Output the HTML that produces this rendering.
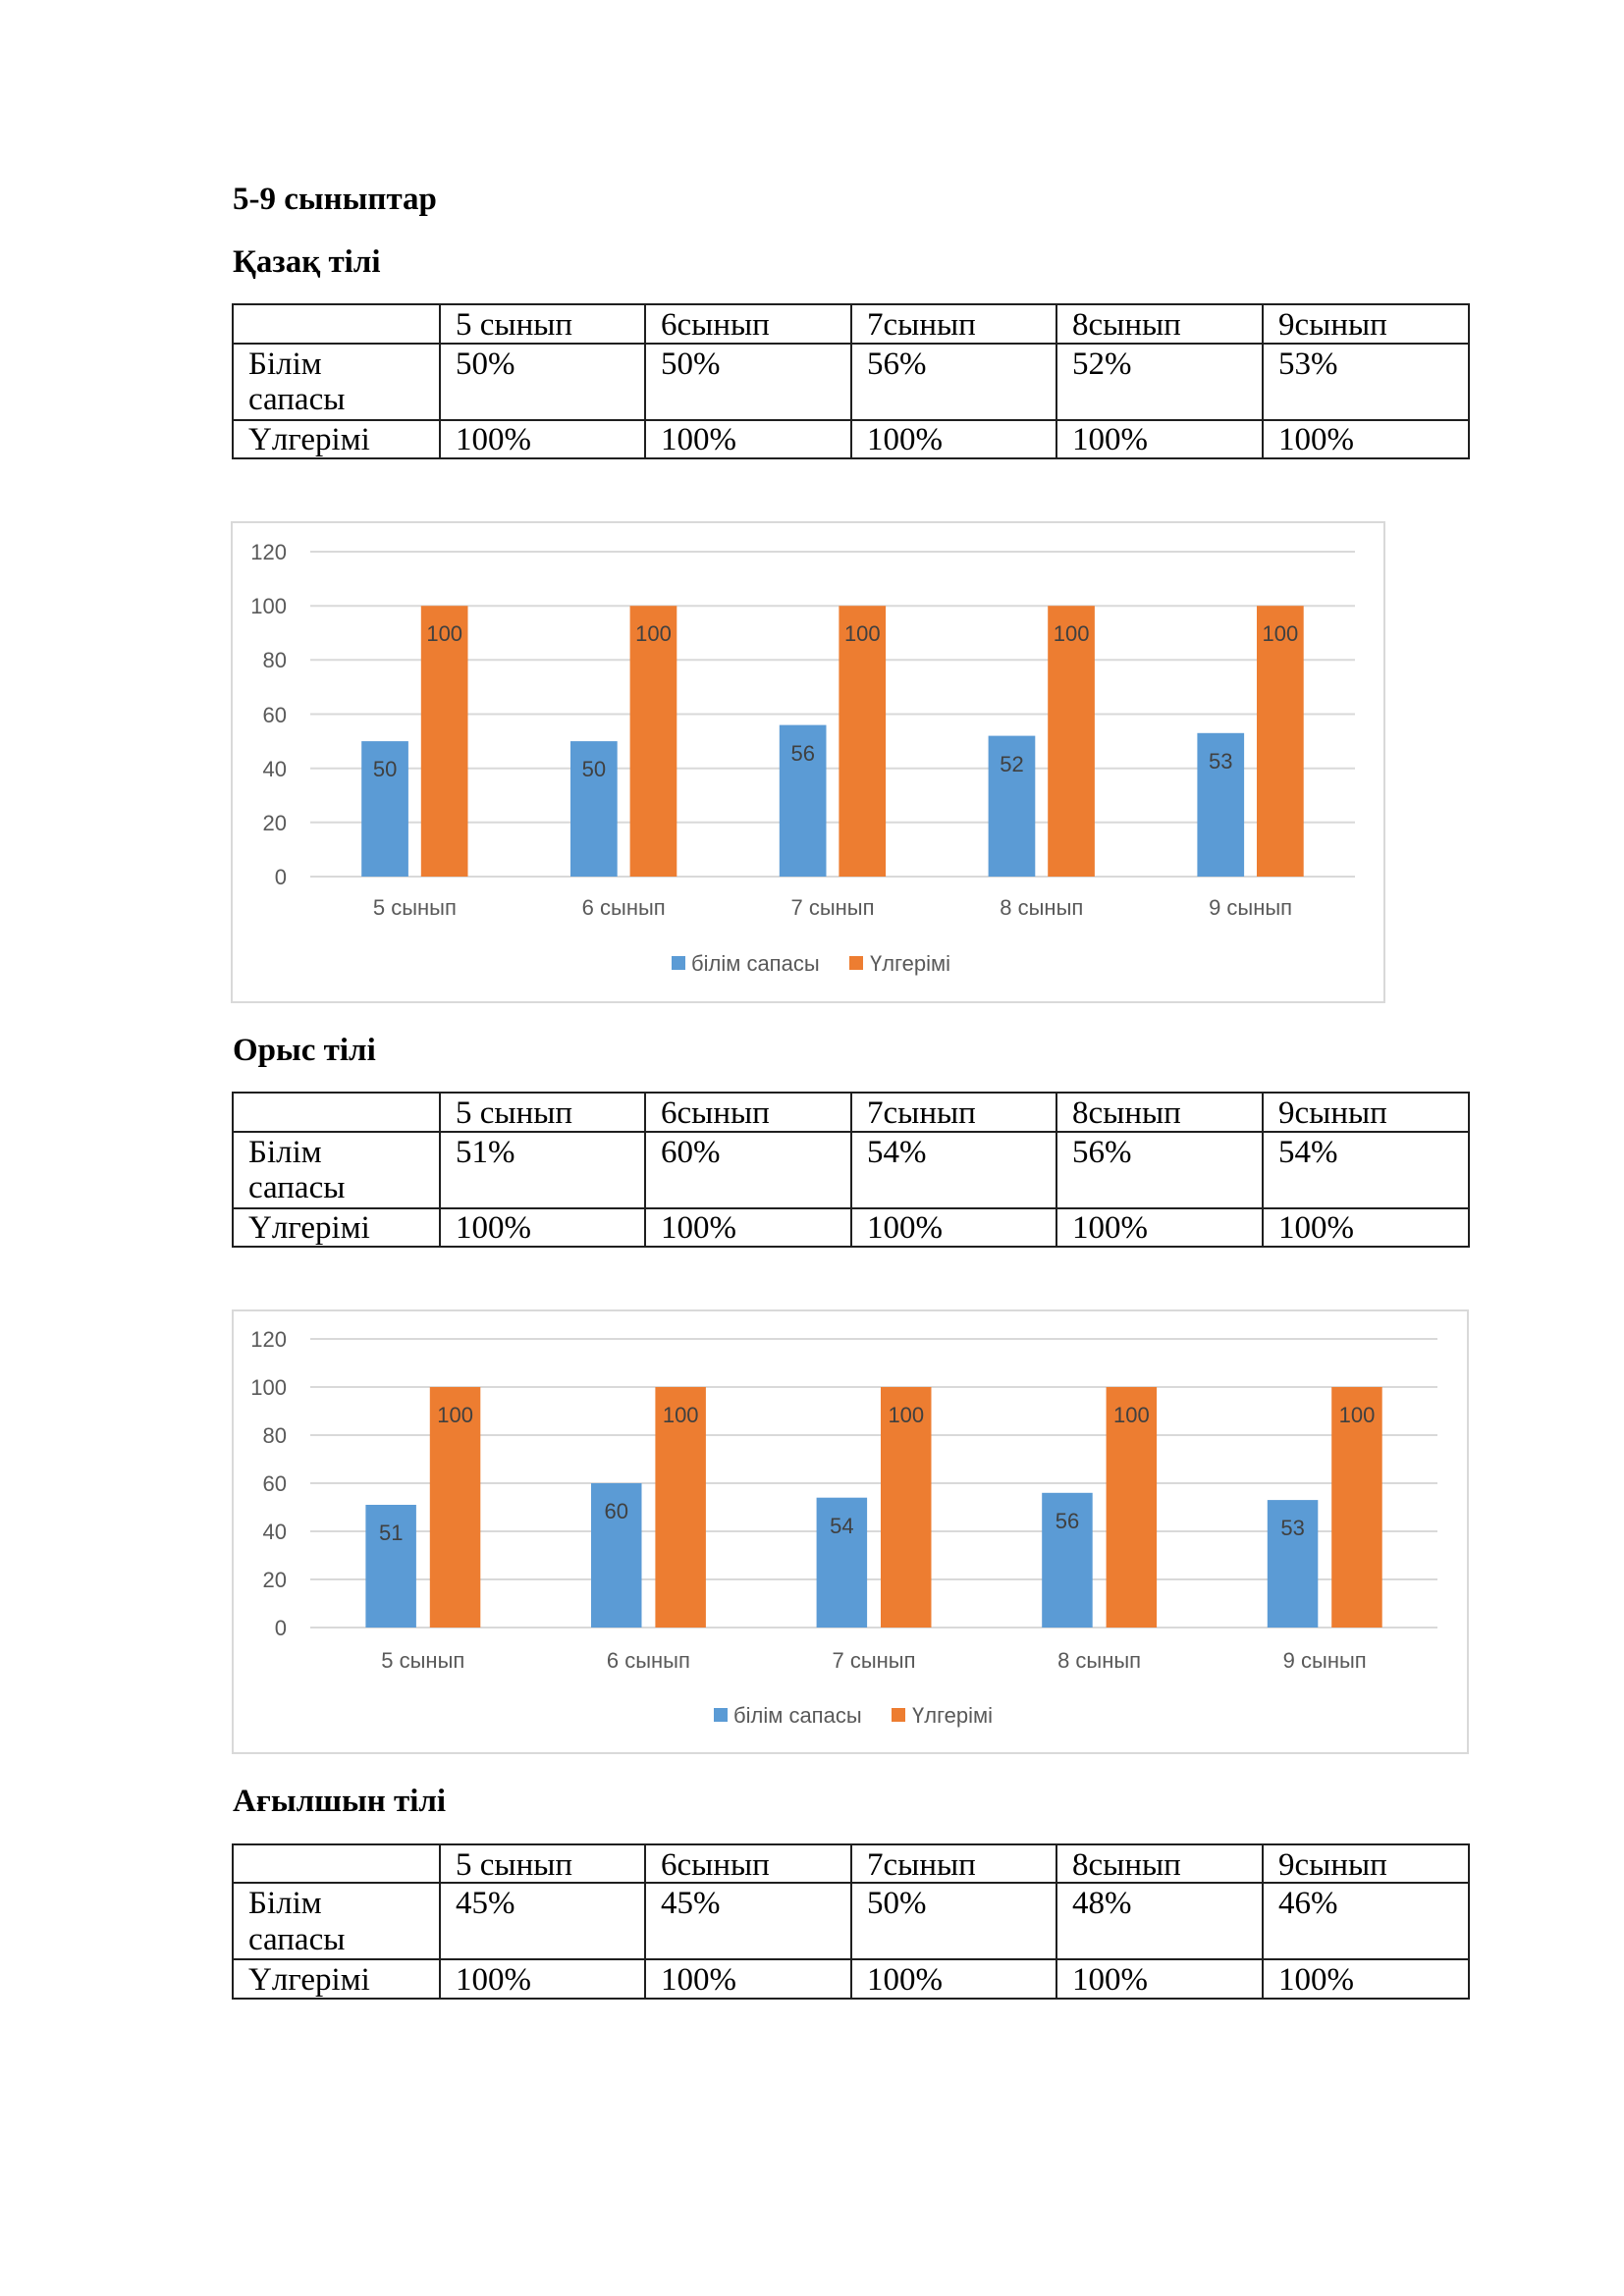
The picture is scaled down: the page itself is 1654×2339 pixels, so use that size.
<!DOCTYPE html>
<html>
<head>
<meta charset="utf-8">
<style>
  html, body { margin:0; padding:0; background:#fff; }
  body { width:1654px; height:2339px; overflow:hidden; }
  svg { display:block; }
  .h { font-family:"Liberation Serif", "DejaVu Serif", serif; font-weight:bold; font-size:33px; fill:#000; }
  .t { font-family:"Liberation Serif", "DejaVu Serif", serif; font-size:33px; fill:#000; }
  .ax { font-family:"Liberation Sans", "DejaVu Sans", sans-serif; font-size:22px; fill:#595959; }
  .dl { font-family:"Liberation Sans", "DejaVu Sans", sans-serif; font-size:22px; fill:#404040; text-anchor:middle; }
  .cat { font-family:"Liberation Sans", "DejaVu Sans", sans-serif; font-size:22px; fill:#595959; text-anchor:middle; }
  .yl { text-anchor:end; }
  .grid { stroke:#d9d9d9; stroke-width:2; }
  .tb { stroke:#1f1f1f; stroke-width:2; fill:none; }
</style>
</head>
<body>
<svg width="1654" height="2339" viewBox="0 0 1654 2339" xmlns="http://www.w3.org/2000/svg">
  <rect x="0" y="0" width="1654" height="2339" fill="#fff"/>

  <!-- Headings -->
  <text class="h" x="237" y="213">5-9 сыныптар</text>
  <text class="h" x="237" y="277">Қазақ тілі</text>

  <!-- Table 1 (T=310) -->
  <g>
    <rect class="tb" x="237" y="310" width="1259" height="157"/>
    <line class="tb" x1="237" y1="350" x2="1496" y2="350"/>
    <line class="tb" x1="237" y1="428" x2="1496" y2="428"/>
    <line class="tb" x1="448" y1="310" x2="448" y2="467"/>
    <line class="tb" x1="657" y1="310" x2="657" y2="467"/>
    <line class="tb" x1="867" y1="310" x2="867" y2="467"/>
    <line class="tb" x1="1076" y1="310" x2="1076" y2="467"/>
    <line class="tb" x1="1286" y1="310" x2="1286" y2="467"/>
    <text class="t" x="464" y="341">5 сынып</text>
    <text class="t" x="673" y="341">6сынып</text>
    <text class="t" x="883" y="341">7сынып</text>
    <text class="t" x="1092" y="341">8сынып</text>
    <text class="t" x="1302" y="341">9сынып</text>
    <text class="t" x="253" y="381">Білім</text>
    <text class="t" x="253" y="417">сапасы</text>
    <text class="t" x="464" y="381">50%</text>
    <text class="t" x="673" y="381">50%</text>
    <text class="t" x="883" y="381">56%</text>
    <text class="t" x="1092" y="381">52%</text>
    <text class="t" x="1302" y="381">53%</text>
    <text class="t" x="253" y="458">Үлгерімі</text>
    <text class="t" x="464" y="458">100%</text>
    <text class="t" x="673" y="458">100%</text>
    <text class="t" x="883" y="458">100%</text>
    <text class="t" x="1092" y="458">100%</text>
    <text class="t" x="1302" y="458">100%</text>
  </g>

  <!-- Chart 1 -->
  <g>
    <rect x="236" y="532" width="1174" height="489" fill="#fff" stroke="#d9d9d9" stroke-width="2"/>
    <line class="grid" x1="316" y1="562" x2="1380" y2="562"/>
    <line class="grid" x1="316" y1="617.2" x2="1380" y2="617.2"/>
    <line class="grid" x1="316" y1="672.3" x2="1380" y2="672.3"/>
    <line class="grid" x1="316" y1="727.5" x2="1380" y2="727.5"/>
    <line class="grid" x1="316" y1="782.7" x2="1380" y2="782.7"/>
    <line class="grid" x1="316" y1="837.8" x2="1380" y2="837.8"/>
    <line class="grid" x1="316" y1="893" x2="1380" y2="893"/>
    <text class="ax yl" x="292" y="570">120</text>
    <text class="ax yl" x="292" y="625">100</text>
    <text class="ax yl" x="292" y="680">80</text>
    <text class="ax yl" x="292" y="736">60</text>
    <text class="ax yl" x="292" y="791">40</text>
    <text class="ax yl" x="292" y="846">20</text>
    <text class="ax yl" x="292" y="901">0</text>
    <!-- bars -->
    <rect x="368.2" y="755.1" width="47.7" height="137.9" fill="#5b9bd5"/>
    <rect x="428.8" y="617.2" width="47.7" height="275.8" fill="#ed7d31"/>
    <rect x="581.0" y="755.1" width="47.7" height="137.9" fill="#5b9bd5"/>
    <rect x="641.6" y="617.2" width="47.7" height="275.8" fill="#ed7d31"/>
    <rect x="793.8" y="738.6" width="47.7" height="154.4" fill="#5b9bd5"/>
    <rect x="854.4" y="617.2" width="47.7" height="275.8" fill="#ed7d31"/>
    <rect x="1006.6" y="749.6" width="47.7" height="143.4" fill="#5b9bd5"/>
    <rect x="1067.2" y="617.2" width="47.7" height="275.8" fill="#ed7d31"/>
    <rect x="1219.4" y="746.8" width="47.7" height="146.2" fill="#5b9bd5"/>
    <rect x="1280.0" y="617.2" width="47.7" height="275.8" fill="#ed7d31"/>
    <!-- data labels -->
    <text class="dl" x="392.1" y="791">50</text>
    <text class="dl" x="452.7" y="653">100</text>
    <text class="dl" x="604.9" y="791">50</text>
    <text class="dl" x="665.5" y="653">100</text>
    <text class="dl" x="817.7" y="775">56</text>
    <text class="dl" x="878.3" y="653">100</text>
    <text class="dl" x="1030.5" y="786">52</text>
    <text class="dl" x="1091.1" y="653">100</text>
    <text class="dl" x="1243.3" y="783">53</text>
    <text class="dl" x="1303.9" y="653">100</text>
    <!-- categories -->
    <text class="cat" x="422.4" y="932">5 сынып</text>
    <text class="cat" x="635.2" y="932">6 сынып</text>
    <text class="cat" x="848" y="932">7 сынып</text>
    <text class="cat" x="1060.8" y="932">8 сынып</text>
    <text class="cat" x="1273.6" y="932">9 сынып</text>
    <!-- legend -->
    <rect x="684" y="974" width="14" height="14" fill="#5b9bd5"/>
    <text class="ax" x="704" y="989">білім сапасы</text>
    <rect x="865" y="974" width="14" height="14" fill="#ed7d31"/>
    <text class="ax" x="886" y="989">Үлгерімі</text>
  </g>

  <!-- Heading 2 -->
  <text class="h" x="237" y="1080">Орыс тілі</text>

  <!-- Table 2 (T=1113) -->
  <g>
    <rect class="tb" x="237" y="1113" width="1259" height="157"/>
    <line class="tb" x1="237" y1="1153" x2="1496" y2="1153"/>
    <line class="tb" x1="237" y1="1231" x2="1496" y2="1231"/>
    <line class="tb" x1="448" y1="1113" x2="448" y2="1270"/>
    <line class="tb" x1="657" y1="1113" x2="657" y2="1270"/>
    <line class="tb" x1="867" y1="1113" x2="867" y2="1270"/>
    <line class="tb" x1="1076" y1="1113" x2="1076" y2="1270"/>
    <line class="tb" x1="1286" y1="1113" x2="1286" y2="1270"/>
    <text class="t" x="464" y="1144">5 сынып</text>
    <text class="t" x="673" y="1144">6сынып</text>
    <text class="t" x="883" y="1144">7сынып</text>
    <text class="t" x="1092" y="1144">8сынып</text>
    <text class="t" x="1302" y="1144">9сынып</text>
    <text class="t" x="253" y="1184">Білім</text>
    <text class="t" x="253" y="1220">сапасы</text>
    <text class="t" x="464" y="1184">51%</text>
    <text class="t" x="673" y="1184">60%</text>
    <text class="t" x="883" y="1184">54%</text>
    <text class="t" x="1092" y="1184">56%</text>
    <text class="t" x="1302" y="1184">54%</text>
    <text class="t" x="253" y="1261">Үлгерімі</text>
    <text class="t" x="464" y="1261">100%</text>
    <text class="t" x="673" y="1261">100%</text>
    <text class="t" x="883" y="1261">100%</text>
    <text class="t" x="1092" y="1261">100%</text>
    <text class="t" x="1302" y="1261">100%</text>
  </g>

  <!-- Chart 2 -->
  <g>
    <rect x="237" y="1335" width="1258" height="451" fill="#fff" stroke="#d9d9d9" stroke-width="2"/>
    <line class="grid" x1="316" y1="1364" x2="1464" y2="1364"/>
    <line class="grid" x1="316" y1="1413" x2="1464" y2="1413"/>
    <line class="grid" x1="316" y1="1462" x2="1464" y2="1462"/>
    <line class="grid" x1="316" y1="1511" x2="1464" y2="1511"/>
    <line class="grid" x1="316" y1="1560" x2="1464" y2="1560"/>
    <line class="grid" x1="316" y1="1609" x2="1464" y2="1609"/>
    <line class="grid" x1="316" y1="1658" x2="1464" y2="1658"/>
    <text class="ax yl" x="292" y="1372">120</text>
    <text class="ax yl" x="292" y="1421">100</text>
    <text class="ax yl" x="292" y="1470">80</text>
    <text class="ax yl" x="292" y="1519">60</text>
    <text class="ax yl" x="292" y="1568">40</text>
    <text class="ax yl" x="292" y="1617">20</text>
    <text class="ax yl" x="292" y="1666">0</text>
    <!-- bars -->
    <rect x="372.4" y="1533" width="51.5" height="125" fill="#5b9bd5"/>
    <rect x="437.8" y="1413" width="51.5" height="245" fill="#ed7d31"/>
    <rect x="602.0" y="1511" width="51.5" height="147" fill="#5b9bd5"/>
    <rect x="667.4" y="1413" width="51.5" height="245" fill="#ed7d31"/>
    <rect x="831.6" y="1525.7" width="51.5" height="132.3" fill="#5b9bd5"/>
    <rect x="897.0" y="1413" width="51.5" height="245" fill="#ed7d31"/>
    <rect x="1061.2" y="1520.8" width="51.5" height="137.2" fill="#5b9bd5"/>
    <rect x="1126.6" y="1413" width="51.5" height="245" fill="#ed7d31"/>
    <rect x="1290.8" y="1528.1" width="51.5" height="129.9" fill="#5b9bd5"/>
    <rect x="1356.2" y="1413" width="51.5" height="245" fill="#ed7d31"/>
    <!-- data labels -->
    <text class="dl" x="398.2" y="1569">51</text>
    <text class="dl" x="463.6" y="1449">100</text>
    <text class="dl" x="627.8" y="1547">60</text>
    <text class="dl" x="693.2" y="1449">100</text>
    <text class="dl" x="857.4" y="1562">54</text>
    <text class="dl" x="922.8" y="1449">100</text>
    <text class="dl" x="1087.0" y="1557">56</text>
    <text class="dl" x="1152.4" y="1449">100</text>
    <text class="dl" x="1316.6" y="1564">53</text>
    <text class="dl" x="1382.0" y="1449">100</text>
    <!-- categories -->
    <text class="cat" x="430.8" y="1699">5 сынып</text>
    <text class="cat" x="660.4" y="1699">6 сынып</text>
    <text class="cat" x="890" y="1699">7 сынып</text>
    <text class="cat" x="1119.6" y="1699">8 сынып</text>
    <text class="cat" x="1349.2" y="1699">9 сынып</text>
    <!-- legend -->
    <rect x="727" y="1740" width="14" height="14" fill="#5b9bd5"/>
    <text class="ax" x="747" y="1755">білім сапасы</text>
    <rect x="908" y="1740" width="14" height="14" fill="#ed7d31"/>
    <text class="ax" x="929" y="1755">Үлгерімі</text>
  </g>

  <!-- Heading 3 -->
  <text class="h" x="237" y="1845">Ағылшын тілі</text>

  <!-- Table 3 (T=1879) -->
  <g>
    <rect class="tb" x="237" y="1879" width="1259" height="157"/>
    <line class="tb" x1="237" y1="1918" x2="1496" y2="1918"/>
    <line class="tb" x1="237" y1="1996" x2="1496" y2="1996"/>
    <line class="tb" x1="448" y1="1879" x2="448" y2="2036"/>
    <line class="tb" x1="657" y1="1879" x2="657" y2="2036"/>
    <line class="tb" x1="867" y1="1879" x2="867" y2="2036"/>
    <line class="tb" x1="1076" y1="1879" x2="1076" y2="2036"/>
    <line class="tb" x1="1286" y1="1879" x2="1286" y2="2036"/>
    <text class="t" x="464" y="1910">5 сынып</text>
    <text class="t" x="673" y="1910">6сынып</text>
    <text class="t" x="883" y="1910">7сынып</text>
    <text class="t" x="1092" y="1910">8сынып</text>
    <text class="t" x="1302" y="1910">9сынып</text>
    <text class="t" x="253" y="1949">Білім</text>
    <text class="t" x="253" y="1986">сапасы</text>
    <text class="t" x="464" y="1949">45%</text>
    <text class="t" x="673" y="1949">45%</text>
    <text class="t" x="883" y="1949">50%</text>
    <text class="t" x="1092" y="1949">48%</text>
    <text class="t" x="1302" y="1949">46%</text>
    <text class="t" x="253" y="2027">Үлгерімі</text>
    <text class="t" x="464" y="2027">100%</text>
    <text class="t" x="673" y="2027">100%</text>
    <text class="t" x="883" y="2027">100%</text>
    <text class="t" x="1092" y="2027">100%</text>
    <text class="t" x="1302" y="2027">100%</text>
  </g>
</svg>
</body>
</html>
